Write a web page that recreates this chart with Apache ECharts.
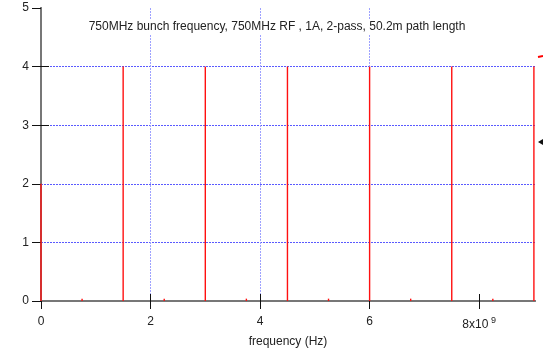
<!DOCTYPE html>
<html>
<head>
<meta charset="utf-8">
<script src="https://cdn.jsdelivr.net/npm/echarts@6/dist/echarts.min.js"></script>
<style>
  html, body { margin: 0; padding: 0; background: #fff; }
  #chart { width: 543px; height: 349px; }
</style>
</head>
<body>
<div id="chart"></div>
<script>
// harmonic lines, frequency in units of 1e9 Hz
const freqs = [0, 0.75, 1.5, 2.25, 3.0, 3.75, 4.5, 5.25, 6.0, 6.75, 7.5, 8.25, 9.0]
const amps = [2, 0.04, 4, 0.04, 4, 0.04, 4, 0.04, 4, 0.04, 4, 0.04, 4]
const xTicks = [0, 2, 4, 6, 8]
const yTicks = [0, 1, 2, 3, 4, 5]
const rightTicks = [3, 4]
const title = '750MHz bunch frequency, 750MHz RF , 1A, 2-pass, 50.2m path length'

const chart = echarts.init(document.getElementById('chart'))
const font = 'Liberation Sans, Arial, sans-serif'
const GIGA = 1e9

const seriesData = freqs.map((f, i) => [f * GIGA, amps[i]])

chart.setOption({
  animation: false,
  grid: { left: 41, right: 8, top: 8, bottom: 48, outerBoundsMode: 'none' },
  xAxis: [
    {
      type: 'value',
      position: 'bottom',
      min: 0,
      max: 9.02 * GIGA,
      interval: 2 * GIGA,
      name: 'frequency (Hz)',
      nameLocation: 'middle',
      nameGap: 32,
      nameTextStyle: { fontFamily: font, fontSize: 12, color: '#222' },
      axisLine: { show: true, lineStyle: { color: '#777', width: 2 } },
      axisTick: { show: true, length: 8, customValues: xTicks.map(v => v * GIGA), lineStyle: { color: '#111' } },
      axisLabel: {
        customValues: xTicks.map(v => v * GIGA),
        margin: 15,
        fontFamily: font,
        fontSize: 12,
        color: '#222',
        formatter: v => {
          const n = Math.round(v / GIGA)
          return n === 8 ? '{a|8x10}{s| 9}' : '{a|' + n + '}'
        },
        rich: {
          a: { fontFamily: font, fontSize: 12, color: '#222' },
          s: { fontFamily: font, fontSize: 9, color: '#222', verticalAlign: 'bottom', padding: [0, 0, 9, 0] }
        }
      },
      splitLine: {
        show: true,
        showMinLine: false,
        showMaxLine: false,
        lineStyle: { color: '#9ea2ff', type: [2, 1], width: 1 }
      }
    },
    {
      type: 'value',
      position: 'top',
      min: 0,
      max: 9.02 * GIGA,
      interval: 2 * GIGA,
      axisLine: { show: true, lineStyle: { color: '#777', width: 2 } },
      axisTick: { show: true, length: 7, customValues: xTicks.slice(1).map(v => v * GIGA), lineStyle: { color: '#111' } },
      axisLabel: { show: false },
      splitLine: { show: false }
    }
  ],
  yAxis: [
    {
      type: 'value',
      position: 'left',
      min: 0,
      max: 5,
      interval: 1,
      axisLine: { show: true, lineStyle: { color: '#666', width: 2 } },
      axisTick: { show: true, length: 9, lineStyle: { color: '#111' } },
      axisLabel: {
        margin: 12,
        fontFamily: font,
        fontSize: 12,
        color: '#222',
        formatter: v => yTicks.includes(v) ? String(v) : ''
      },
      splitLine: {
        show: true,
        showMinLine: false,
        showMaxLine: false,
        lineStyle: { color: '#5a5aff', type: [2, 1], width: 1 }
      }
    },
    {
      type: 'value',
      position: 'right',
      min: 0,
      max: 5,
      interval: 1,
      axisLine: { show: true, lineStyle: { color: '#777', width: 2 } },
      axisTick: { show: true, length: 8, customValues: rightTicks, lineStyle: { color: '#111' } },
      axisLabel: { show: false },
      splitLine: { show: false }
    }
  ],
  series: [
    {
      type: 'bar',
      xAxisIndex: 0,
      yAxisIndex: 0,
      barWidth: 1.4,
      itemStyle: { color: '#ff1010' },
      data: seriesData,
      z: 3
    }
  ],
  graphic: [
    {
      type: 'text',
      x: 277,
      y: 19,
      style: {
        text: title,
        align: 'center',
        fontFamily: font,
        fontSize: 12,
        fill: '#222',
        backgroundColor: '#fff',
        padding: [2, 3]
      },
      z: 10
    },
    {
      type: 'line',
      shape: { x1: 538, y1: 57, x2: 543, y2: 56 },
      style: { stroke: '#ff0000', lineWidth: 2 }
    },
    {
      type: 'polygon',
      shape: { points: [[538, 142], [543, 139], [543, 145]] },
      style: { fill: '#111' }
    }
  ]
})
</script>
</body>
</html>
